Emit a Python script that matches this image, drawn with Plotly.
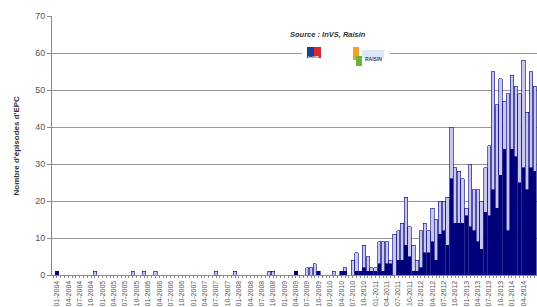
import plotly.graph_objects as go

# Month labels 01-2004 .. 07-2014
months = [f"{m:02d}-{y}" for y in range(2004, 2015) for m in range(1, 13)][:127]

# Dark (bottom) series, one row per year
dark = (
    [1, 0, 0, 0, 0, 0, 0, 0, 0, 0, 0, 0] +           # 2004
    [0, 0, 0, 0, 0, 0, 0, 0, 0, 0, 0, 0] +           # 2005
    [0, 0, 0, 0, 0, 0, 0, 0, 0, 0, 0, 0] +           # 2006
    [0, 0, 0, 0, 0, 0, 0, 0, 0, 0, 0, 0] +           # 2007
    [0, 0, 0, 0, 0, 0, 0, 0, 0, 0, 0, 0] +           # 2008
    [0, 0, 0, 1, 0, 0, 0, 0, 0, 1, 0, 0] +           # 2009
    [0, 0, 0, 1, 1, 0, 0, 1, 1, 2, 1, 1] +           # 2010
    [1, 3, 1, 3, 3, 0, 4, 4, 8, 5, 1, 1] +           # 2011
    [2, 6, 6, 9, 4, 11, 12, 8, 26, 14, 14, 14] +     # 2012
    [16, 13, 12, 9, 7, 17, 16, 23, 18, 27, 34, 12] + # 2013
    [34, 32, 25, 29, 23, 29, 28]                     # 2014
)

# Light (top) series
light = (
    [0, 0, 0, 0, 0, 0, 0, 0, 0, 0, 1, 0] +           # 2004
    [0, 0, 0, 0, 0, 0, 0, 0, 1, 0, 0, 1] +           # 2005
    [0, 0, 1, 0, 0, 0, 0, 0, 0, 0, 0, 0] +           # 2006
    [0, 0, 0, 0, 0, 0, 1, 0, 0, 0, 0, 1] +           # 2007
    [0, 0, 0, 0, 0, 0, 0, 0, 1, 1, 0, 0] +           # 2008
    [0, 0, 0, 0, 0, 0, 2, 2, 3, 0, 0, 0] +           # 2009
    [0, 1, 0, 0, 1, 0, 4, 5, 0, 6, 4, 1] +           # 2010
    [1, 6, 8, 6, 1, 11, 8, 10, 13, 8, 7, 3] +        # 2011
    [10, 8, 6, 9, 11, 9, 8, 13, 14, 15, 14, 12] +    # 2012
    [2, 17, 11, 14, 13, 12, 19, 32, 28, 26, 13, 37] +# 2013
    [20, 19, 24, 29, 21, 26, 23]                     # 2014
)

tick_labels = months[::3]
y_ticks = [0, 10, 20, 30, 40, 50, 60, 70]

NAVY = "#00007A"
LAV = "#C8C8EE"
FONT = "Liberation Sans, Arial, sans-serif"

x = list(range(len(months)))
tick_pos = x[::3]

fig = go.Figure()
fig.add_trace(go.Bar(x=x, y=dark, marker=dict(color=NAVY, line=dict(color=NAVY, width=0.6)),
                     hoverinfo="skip"))
fig.add_trace(go.Bar(x=x, y=light, marker=dict(color=LAV, line=dict(color=NAVY, width=0.6)),
                     hoverinfo="skip"))

fig.update_layout(
    width=537, height=307,
    margin=dict(l=52, r=0, t=16, b=32),
    barmode="stack", bargap=0.1,
    showlegend=False,
    plot_bgcolor="white", paper_bgcolor="white",
    font=dict(family=FONT, color="#555555"),
    xaxis=dict(
        range=[-1.3, 126.6], tickmode="array", tickvals=tick_pos, ticktext=tick_labels,
        tickangle=-90, tickfont=dict(size=7, color="#555555"),
        showline=True, linecolor="#888888", linewidth=1,
        ticks="outside", ticklen=2, tickcolor="#888888",
        minor=dict(dtick=1, tick0=0, ticks="outside", ticklen=2, tickcolor="#888888"),
        showgrid=False, zeroline=False, automargin=False, fixedrange=True,
    ),
    yaxis=dict(
        range=[0, 70], tickvals=y_ticks, tickfont=dict(size=9, color="#555555"),
        showline=True, linecolor="#888888", linewidth=1,
        ticks="outside", ticklen=4, tickcolor="#888888",
        showgrid=True, gridcolor="#999999", gridwidth=1,
        zeroline=False, automargin=False, fixedrange=True,
    ),
)

def px(xp):
    return (xp - 52) / 485

def py(yp):
    return (275 - yp) / 259

fig.add_annotation(text="<b>Nombre d'épisodes d'EPC</b>", textangle=-90, xref="paper", yref="paper",
                   x=px(16), y=0.5, showarrow=False,
                   font=dict(size=8, color="#333333", family=FONT), xanchor="center", yanchor="middle")
fig.add_annotation(text="<b><i>Source : InVS, Raisin</i></b>", xref="paper", yref="paper",
                   x=px(328), y=py(35), showarrow=False,
                   font=dict(size=7.5, color="#333333", family=FONT), xanchor="center", yanchor="middle")

# logo placeholders
shapes = [
    dict(type="rect", xref="paper", yref="paper", x0=px(302), x1=px(390), y0=py(69), y1=py(45),
         fillcolor="white", line=dict(width=0), layer="above"),
    dict(type="rect", xref="paper", yref="paper", x0=px(307), x1=px(314), y0=py(58), y1=py(47),
         fillcolor="#1F3C8F", line=dict(width=0), layer="above"),
    dict(type="rect", xref="paper", yref="paper", x0=px(314), x1=px(321), y0=py(58), y1=py(47),
         fillcolor="#D4292E", line=dict(width=0), layer="above"),
    dict(type="rect", xref="paper", yref="paper", x0=px(353), x1=px(359), y0=py(60), y1=py(47),
         fillcolor="#F2A12B", line=dict(width=0), layer="above"),
    dict(type="rect", xref="paper", yref="paper", x0=px(356), x1=px(362), y0=py(66), y1=py(56),
         fillcolor="#6CB33F", line=dict(width=0), layer="above"),
    dict(type="rect", xref="paper", yref="paper", x0=px(362), x1=px(384), y0=py(58), y1=py(50),
         fillcolor="#DDE8F5", line=dict(width=0), layer="above"),
]
fig.update_layout(shapes=shapes)
fig.add_annotation(text="<b>InVS</b>", xref="paper", yref="paper", x=px(314), y=py(52.5),
                   showarrow=False, font=dict(size=5, color="white", family=FONT))
fig.add_annotation(text="<b>RAISIN</b>", xref="paper", yref="paper", x=px(373), y=py(54),
                   showarrow=False, font=dict(size=5, color="#1F3C8F", family=FONT))

fig.write_html("out.html", config={"displayModeBar": False},
               post_script="document.body.style.margin='0';document.body.style.overflow='hidden';")
